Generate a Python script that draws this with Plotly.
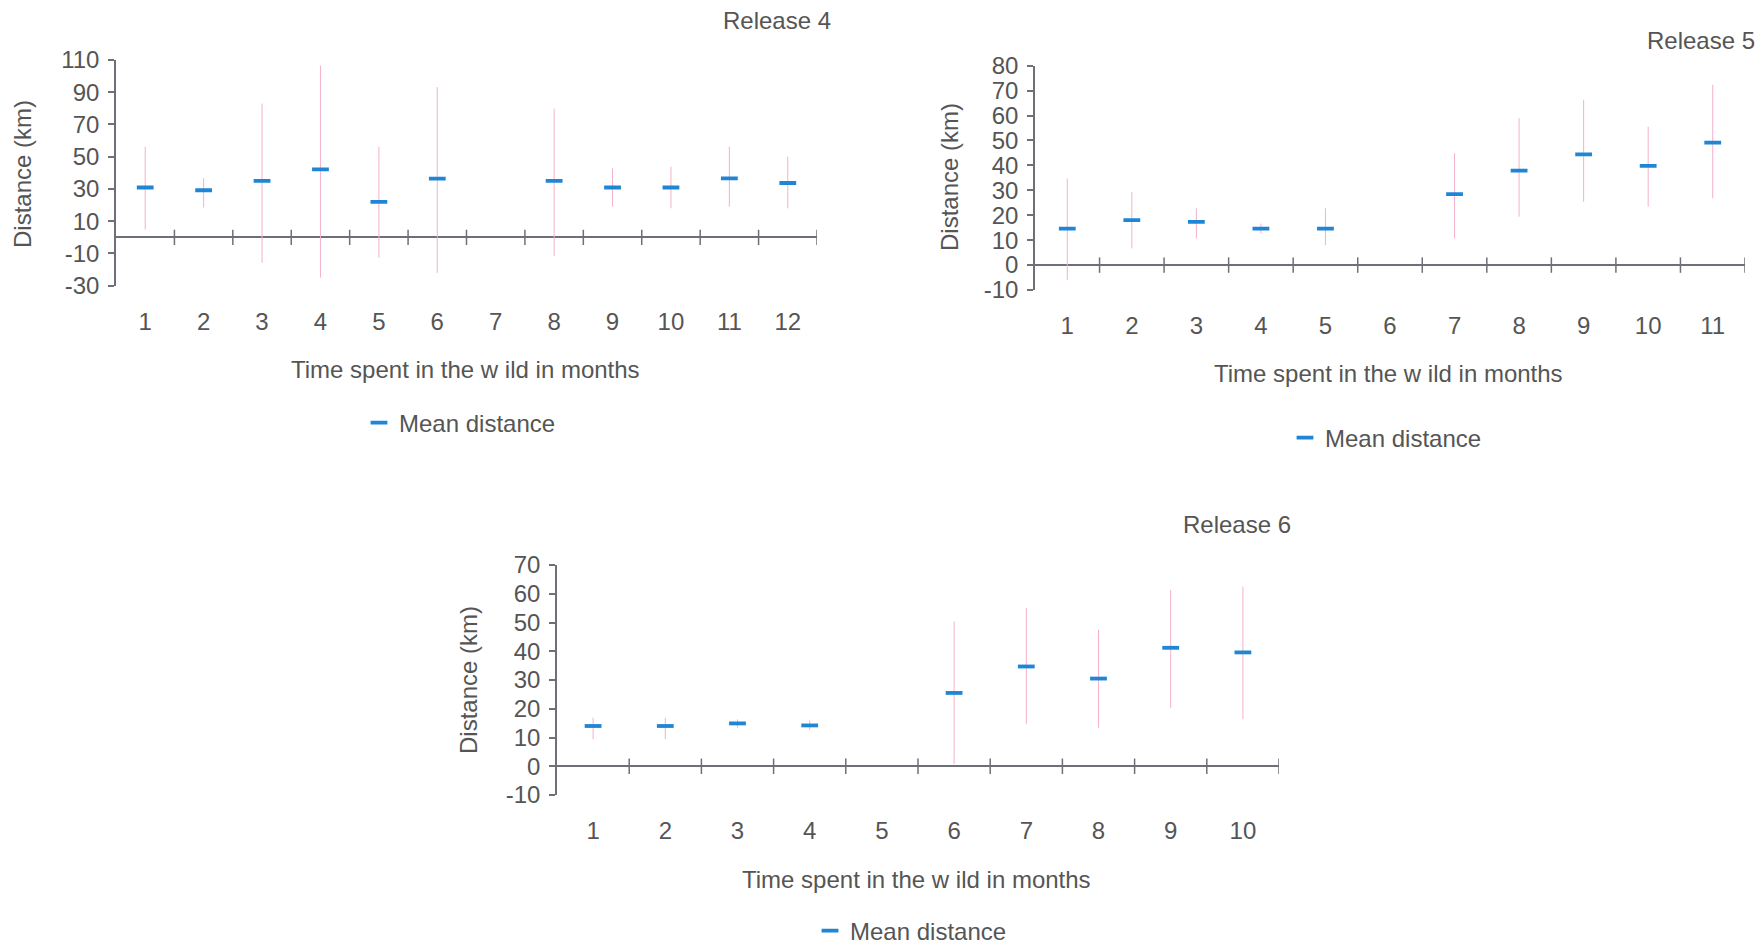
import plotly.graph_objects as go

# ---------------- data ----------------
months_r4 = [1, 2, 3, 4, 5, 6, 7, 8, 9, 10, 11, 12]
mean_r4 = [30.9, 29.2, 35.0, 42.2, 22.0, 36.4, None, 35.0, 30.9, 30.9, 36.6, 33.7]
upper_r4 = [56.2, 36.7, 83.0, 106.6, 56.2, 93.2, None, 79.9, 42.8, 43.8, 56.2, 50.0]
lower_r4 = [4.8, 18.5, -15.8, -25.0, -12.7, -22.0, None, -11.7, 19.0, 18.0, 19.0, 18.0]
yticks_r4 = [-30, -10, 10, 30, 50, 70, 90, 110]

months_r5 = [1, 2, 3, 4, 5, 6, 7, 8, 9, 10, 11]
mean_r5 = [14.6, 18.0, 17.3, 14.6, 14.6, None, 28.5, 37.9, 44.4, 39.8, 49.1]
upper_r5 = [34.8, 29.4, 22.8, 16.7, 22.8, None, 44.9, 58.9, 66.3, 55.5, 72.3]
lower_r5 = [-6.0, 6.7, 10.7, 12.7, 8.0, None, 10.7, 19.4, 25.4, 23.4, 26.8]
yticks_r5 = [-10, 0, 10, 20, 30, 40, 50, 60, 70, 80]

months_r6 = [1, 2, 3, 4, 5, 6, 7, 8, 9, 10]
mean_r6 = [14.0, 14.0, 14.9, 14.2, None, 25.5, 34.7, 30.5, 41.2, 39.6]
upper_r6 = [16.9, 16.9, 16.3, 16.0, None, 50.4, 55.0, 47.5, 61.3, 62.5]
lower_r6 = [9.4, 9.4, 13.4, 12.6, None, 0.7, 14.6, 13.4, 20.3, 16.3]
yticks_r6 = [-10, 0, 10, 20, 30, 40, 50, 60, 70]

titles = ["Release 4", "Release 5", "Release 6"]
x_title = "Time spent in the w ild in months"
y_title = "Distance (km)"
series_name = "Mean distance"

# ---------------- style ----------------
FONT = "Liberation Sans, Arial"
FS = 24
TXT = "#555555"
AX = "#6f6f78"
BLUE = "#1f86d6"
PINK = "#f4b0cd"

fig = go.Figure()

panels = [
    dict(m=months_r4, mean=mean_r4, up=upper_r4, lo=lower_r4, yt=yticks_r4,
         xd=[116 / 1761, 817 / 1761], yd=[658.3 / 944, 884 / 944], leg=(460, 423)),
    dict(m=months_r5, mean=mean_r5, up=upper_r5, lo=lower_r5, yt=yticks_r5,
         xd=[1035 / 1761, 1745 / 1761], yd=[654 / 944, 878.3 / 944], leg=(1386, 438)),
    dict(m=months_r6, mean=mean_r6, up=upper_r6, lo=lower_r6, yt=yticks_r6,
         xd=[557 / 1761, 1279 / 1761], yd=[149 / 944, 379 / 944], leg=(911, 931)),
]

for i, p in enumerate(panels):
    k = "" if i == 0 else str(i + 1)
    xa, ya = "x" + k, "y" + k
    plus = [(u - m) if m is not None else None for u, m in zip(p["up"], p["mean"])]
    minus = [(m - l) if m is not None else None for l, m in zip(p["lo"], p["mean"])]
    fig.add_trace(go.Scatter(
        x=p["m"], y=p["mean"], mode="markers", name=series_name,
        xaxis=xa, yaxis=ya, legend="legend" + k,
        marker=dict(symbol="line-ew", size=12, color=BLUE,
                    line=dict(color=BLUE, width=3.8)),
        error_y=dict(type="data", array=plus, arrayminus=minus, symmetric=False,
                     color=PINK, thickness=1, width=0),
    ))
    # category separator tick marks on the zero line
    fig.add_trace(go.Scatter(
        x=[m + 0.5 for m in p["m"]], y=[0] * len(p["m"]), mode="markers",
        xaxis=xa, yaxis=ya, showlegend=False, hoverinfo="skip",
        marker=dict(symbol="line-ns", size=11, color=AX, line=dict(color=AX, width=1.5)),
    ))
    fig.layout["xaxis" + k] = dict(
        domain=p["xd"], anchor=ya, range=[0.5, len(p["m"]) + 0.5],
        tickvals=p["m"], ticktext=[str(m) for m in p["m"]],
        showline=False, showgrid=False, zeroline=False, ticks="",
        ticklabelstandoff=19, automargin=False,
        tickfont=dict(family=FONT, size=FS, color=TXT),
    )
    fig.layout["yaxis" + k] = dict(
        domain=p["yd"], anchor=xa, range=[p["yt"][0], p["yt"][-1]],
        tickvals=p["yt"], ticktext=[str(v) for v in p["yt"]],
        showline=True, linecolor=AX, linewidth=1.5, ticks="outside", ticklen=6,
        tickcolor=AX, tickwidth=1.5, showgrid=False, automargin=False,
        zeroline=True, zerolinecolor=AX, zerolinewidth=1.5,
        ticklabelstandoff=4,
        tickfont=dict(family=FONT, size=FS, color=TXT),
    )
    lx, ly = p["leg"]
    fig.layout["legend" + k] = dict(
        x=lx / 1761, y=1 - ly / 944, xanchor="center", yanchor="middle",
        font=dict(family=FONT, size=FS, color=TXT), bgcolor="rgba(0,0,0,0)",
        itemwidth=30,
    )

annos = [
    # titles
    dict(text=titles[0], x=833 / 1761, y=1 - 21 / 944, xanchor="right", yanchor="middle"),
    dict(text=titles[1], x=1757 / 1761, y=1 - 40 / 944, xanchor="right", yanchor="middle"),
    dict(text=titles[2], x=1293 / 1761, y=1 - 524 / 944, xanchor="right", yanchor="middle"),
    # x titles
    dict(text=x_title, x=466 / 1761, y=1 - 369 / 944, xanchor="center", yanchor="middle"),
    dict(text=x_title, x=1388 / 1761, y=1 - 373 / 944, xanchor="center", yanchor="middle"),
    dict(text=x_title, x=917 / 1761, y=1 - 879 / 944, xanchor="center", yanchor="middle"),
    # y titles
    dict(text=y_title, x=22 / 1761, y=1 - 174 / 944, xanchor="center", yanchor="middle", textangle=-90),
    dict(text=y_title, x=949 / 1761, y=1 - 177 / 944, xanchor="center", yanchor="middle", textangle=-90),
    dict(text=y_title, x=468 / 1761, y=1 - 680 / 944, xanchor="center", yanchor="middle", textangle=-90),
]
for a in annos:
    a.update(xref="paper", yref="paper", showarrow=False,
             font=dict(family=FONT, size=FS, color=TXT))

fig.update_layout(
    width=1761, height=944, margin=dict(l=0, r=0, t=0, b=0, autoexpand=False),
    paper_bgcolor="white", plot_bgcolor="white",
    annotations=annos, showlegend=True,
)

fig.write_html(
    "out.html",
    config={"displayModeBar": False},
    post_script="document.body.style.margin='0';document.body.style.overflow='hidden';",
)
